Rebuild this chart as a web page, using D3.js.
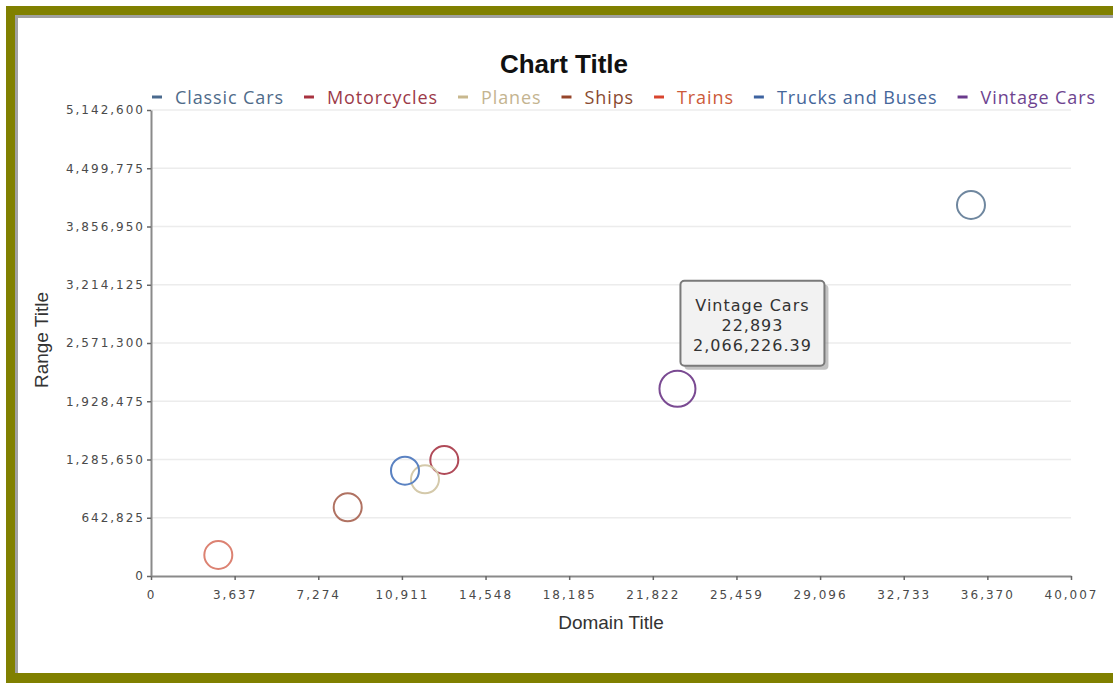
<!DOCTYPE html>
<html><head><meta charset="utf-8">
<script src="https://cdn.jsdelivr.net/npm/d3@7"></script>
<style>
html,body{margin:0;padding:0;background:#fff;}
svg{display:block;}
</style></head>
<body>
<svg id="chart" width="1113" height="683"></svg>
<script>
// ---- data ----
const seriesNames = ["Classic Cars","Motorcycles","Planes","Ships","Trains","Trucks and Buses","Vintage Cars"];
const quantities  = [35658, 12754, 11915, 8554, 2927, 11045, 22893];
const salesValues = [4094210, 1280130, 1067150, 758150, 231750, 1162050, 2066226.39];
const legendColors = ["#4a6a8e","#a8323f","#c8b88e","#96452a","#d8442e","#3d63a0","#6a3a8c"];
const textColors   = ["#4f6b8a","#9c3a48","#c4b490","#8a4a30","#cc5a3a","#45669a","#6e4490"];
const pointColors  = ["#6f879f","#b04a58","#d4c9aa","#b07262","#dc8272","#5a82c2","#7a4a92"];
const xMax = 40007, yMax = 5142600;
const xTickCount = 11, yTickCount = 8;
const chartTitle = "Chart Title", xTitle = "Domain Title", yTitle = "Range Title";
const tooltipSeries = "Vintage Cars";

(function(){
// ---- layout ----
const svg = d3.select("#chart");
const pLeft = 151, pRight = 1071, pTop = 110, pBottom = 576;

// frame
svg.append("rect").attr("x",0).attr("y",0).attr("width",1113).attr("height",683).attr("fill","#fff");
svg.append("rect").attr("x",15).attr("y",15).attr("width",1098).attr("height",3).attr("fill","#a0a0a0");
svg.append("rect").attr("x",15).attr("y",15).attr("width",3).attr("height",658).attr("fill","#a0a0a0");
svg.append("rect").attr("x",6).attr("y",6).attr("width",1107).attr("height",9).attr("fill","#808000");
svg.append("rect").attr("x",6).attr("y",6).attr("width",9).attr("height",677).attr("fill","#808000");
svg.append("rect").attr("x",6).attr("y",673).attr("width",1107).attr("height",10).attr("fill","#808000");

const x = d3.scaleLinear().domain([0,xMax]).range([pLeft,pRight]);
const y = d3.scaleLinear().domain([0,yMax]).range([pBottom,pTop]);
const xTicks = d3.range(0, xTickCount+1).map(i => i*xMax/xTickCount);
const yTicks = d3.range(0, yTickCount+1).map(i => i*yMax/yTickCount);
const fmt = d3.format(",.0f");

// gridlines
svg.append("g").selectAll("line").data(yTicks.slice(1)).join("line")
  .attr("x1",pLeft).attr("x2",pRight)
  .attr("y1",d=>y(d)).attr("y2",d=>y(d))
  .attr("stroke","#ececec").attr("stroke-width",1.5);

// axes
const tickFont = "Verdana, 'DejaVu Sans', sans-serif";
const xAxis = svg.append("g").attr("transform",`translate(0,${pBottom})`)
  .call(d3.axisBottom(x).tickValues(xTicks).tickFormat(fmt).tickSize(4).tickSizeOuter(0));
const yAxis = svg.append("g").attr("transform",`translate(${pLeft},0)`)
  .call(d3.axisLeft(y).tickValues(yTicks).tickFormat(fmt).tickSize(4).tickSizeOuter(0));
[xAxis,yAxis].forEach(a=>{
  a.select(".domain").attr("stroke","#8a8a8a").attr("stroke-width",2);
  a.selectAll(".tick line").attr("stroke","#666").attr("stroke-width",1.5);
  a.selectAll(".tick text").attr("fill","#4a4a4a").style("font-family",tickFont)
   .style("font-size","12px").style("letter-spacing","2px");
});
xAxis.selectAll(".tick text").attr("dy","0.95em").attr("y",12);
yAxis.selectAll(".tick text").attr("x",-6);

// titles
svg.append("text").attr("x",564).attr("y",73).attr("text-anchor","middle")
  .style("font-family","'Liberation Sans', Arial, sans-serif").style("font-weight","bold")
  .style("font-size","26px").attr("fill","#111").text(chartTitle);
svg.append("text").attr("x",611).attr("y",629).attr("text-anchor","middle")
  .style("font-family","'Liberation Sans', Arial, sans-serif").style("font-size","19px")
  .attr("fill","#333").text(xTitle);
svg.append("text").attr("transform","translate(48,340) rotate(-90)").attr("text-anchor","middle")
  .style("font-family","'Liberation Sans', Arial, sans-serif").style("font-size","19px")
  .attr("fill","#333").text(yTitle);

// legend
const legend = svg.append("g");
let lx = 152;
seriesNames.forEach((name,i)=>{
  legend.append("line").attr("x1",lx).attr("x2",lx+10).attr("y1",97).attr("y2",97)
    .attr("stroke",legendColors[i]).attr("stroke-width",3);
  const t = legend.append("text").attr("x",lx+23).attr("y",104)
    .style("font-family","'Open Sans', sans-serif").style("font-size","18px")
    .style("letter-spacing","0.9px")
    .attr("fill",textColors[i]).text(name);
  lx = lx + 23 + t.node().getComputedTextLength() + 20;
});

// points
const points = seriesNames.map((n,i)=>({name:n,q:quantities[i],s:salesValues[i],c:pointColors[i]}));
svg.append("g").selectAll("circle").data(points).join("circle")
  .attr("cx",d=>x(d.q)).attr("cy",d=>y(d.s))
  .attr("r",d=>d.name===tooltipSeries?18:14)
  .attr("fill","none").attr("stroke",d=>d.c).attr("stroke-width",2);

// tooltip
const tp = points.find(p=>p.name===tooltipSeries);
const tx = x(tp.q)+3, ty = y(tp.s)-108, tw = 144, th = 85;
const tg = svg.append("g");
tg.append("rect").attr("x",tx+4).attr("y",ty+4).attr("width",tw).attr("height",th).attr("rx",4)
  .attr("fill","#9a9a9a").attr("opacity",0.6);
tg.append("rect").attr("x",tx).attr("y",ty).attr("width",tw).attr("height",th).attr("rx",4)
  .attr("fill","#f2f2f2").attr("stroke","#7a7a7a").attr("stroke-width",2);
const lines = [tp.name, d3.format(",")(tp.q), d3.format(",.2f")(tp.s)];
lines.forEach((l,i)=>{
  tg.append("text").attr("x",tx+tw/2).attr("y",ty+30+i*20).attr("text-anchor","middle")
    .style("font-family","Verdana, 'DejaVu Sans', sans-serif").style("font-size","16px")
    .style("letter-spacing","1px").attr("fill","#333").text(l);
});
})();
</script>
</body></html>
